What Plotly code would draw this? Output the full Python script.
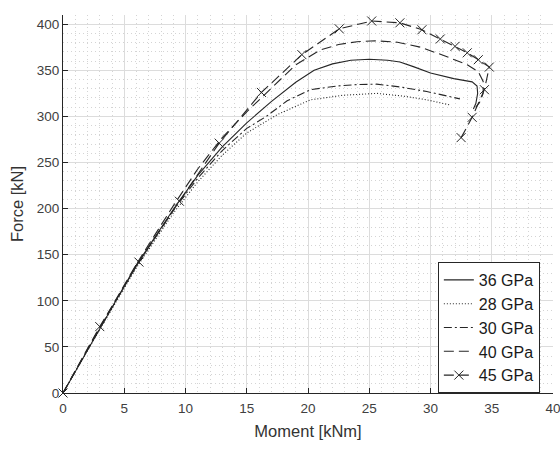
import plotly.graph_objects as go

# Force–moment response for different concrete stiffnesses
m_36 = [0, 3, 6, 9, 11, 13, 15, 17, 19, 20.5, 22, 23.5, 25, 26.5, 27.5, 28.6, 30, 31.9, 33.4, 33.8, 33.85, 33.7, 33.5]
f_36 = [0, 70, 139, 199, 236, 267, 293, 316, 337, 350, 357, 361, 362, 361, 359, 354, 347, 341, 337.5, 333, 325, 314, 308]

m_28 = [0, 3, 6, 9, 11, 13, 15, 17.5, 20.2, 22.9, 25.6, 27.8, 29.7, 31.6]
f_28 = [0, 69, 136, 195, 229, 258, 282, 302, 318, 323, 325, 322, 318, 312.4]

m_30 = [0, 3, 6, 9, 11, 13, 15, 16.6, 18.3, 20.2, 22.4, 24, 25.6, 27.5, 29.7, 32.4]
f_30 = [0, 70, 138, 198, 233, 263, 287, 300, 317, 329, 333, 334.5, 335, 332, 327, 319]

m_40 = [0, 3, 6, 9, 11, 13, 15, 17, 19, 21, 22.5, 24, 25.5, 27.3, 29.2, 31.3, 33, 33.9, 34.3, 34.3, 34.0, 33.7]
f_40 = [0, 71, 140, 203, 243, 277, 305, 330, 356, 372, 378, 381, 382, 380.5, 375, 365, 356, 348.6, 338, 325, 315, 310]

m_45 = [0, 3, 6.2, 9.5, 12.75, 16.2, 19.5, 22.55, 25.2, 27.5, 29.3, 30.8, 32.0, 33.0, 33.9, 34.8, 34.4, 33.4, 32.5]
f_45 = [0, 72, 142, 208, 271, 326, 367, 395, 403.5, 401.5, 394, 384, 376, 369, 361.5, 353.5, 329, 299, 277]

x_ticks = list(range(0, 41, 5))
y_ticks = list(range(0, 401, 50))

ink = "#262626"
font_family = "Liberation Sans, Arial, sans-serif"

fig = go.Figure()
fig.add_trace(go.Scatter(x=m_36, y=f_36, mode="lines", name="36 GPa",
                         line=dict(color=ink, width=1.1)))
fig.add_trace(go.Scatter(x=m_28, y=f_28, mode="lines", name="28 GPa",
                         line=dict(color=ink, width=1.1, dash="1px,2px")))
fig.add_trace(go.Scatter(x=m_30, y=f_30, mode="lines", name="30 GPa",
                         line=dict(color=ink, width=1.1, dash="8px,3px,2px,3px")))
fig.add_trace(go.Scatter(x=m_40, y=f_40, mode="lines", name="40 GPa",
                         line=dict(color=ink, width=1.1, dash="10px,5px")))
fig.add_trace(go.Scatter(x=m_45, y=f_45, mode="lines+markers", name="45 GPa",
                         line=dict(color=ink, width=1.1, dash="10px,5px"),
                         marker=dict(symbol="x-thin", size=9, color=ink,
                                     line=dict(width=1, color=ink)),
                         cliponaxis=False))

axis_common = dict(
    showline=True, linecolor=ink, linewidth=1, mirror=False,
    ticks="inside", ticklen=5, tickwidth=1, tickcolor=ink,
    showgrid=True, gridcolor="#dcdcdc", gridwidth=1,
    zeroline=False, ticklabeloverflow="allow", automargin=False,
    tickfont=dict(family=font_family, size=13.5, color="#404040"),
)

fig.update_xaxes(
    range=[0, 40], tickvals=x_ticks, ticklabelstandoff=3,
    title=dict(text="Moment [kNm]", standoff=10,
               font=dict(family=font_family, size=16.5, color="#333333")),
    minor=dict(dtick=1, showgrid=True, gridcolor="#d4d4d4", griddash="1px,3px", ticks=""),
    **axis_common,
)
fig.update_yaxes(
    range=[0, 410], tickvals=y_ticks,
    title=dict(text="Force [kN]", standoff=8,
               font=dict(family=font_family, size=16.5, color="#333333")),
    minor=dict(dtick=10, showgrid=True, gridcolor="#d4d4d4", griddash="1px,3px", ticks=""),
    **axis_common,
)

fig.update_layout(
    width=560, height=450,
    margin=dict(l=63, r=7, t=15, b=57),
    paper_bgcolor="white", plot_bgcolor="white",
    showlegend=True,
    legend=dict(
        x=0.765, y=0.3466, xanchor="left", yanchor="top",
        bgcolor="white", bordercolor=ink, borderwidth=1,
        font=dict(family=font_family, size=16, color="#1a1a1a"),
        itemwidth=30, tracegroupgap=0,
    ),
)

fig.write_html("out.html")
